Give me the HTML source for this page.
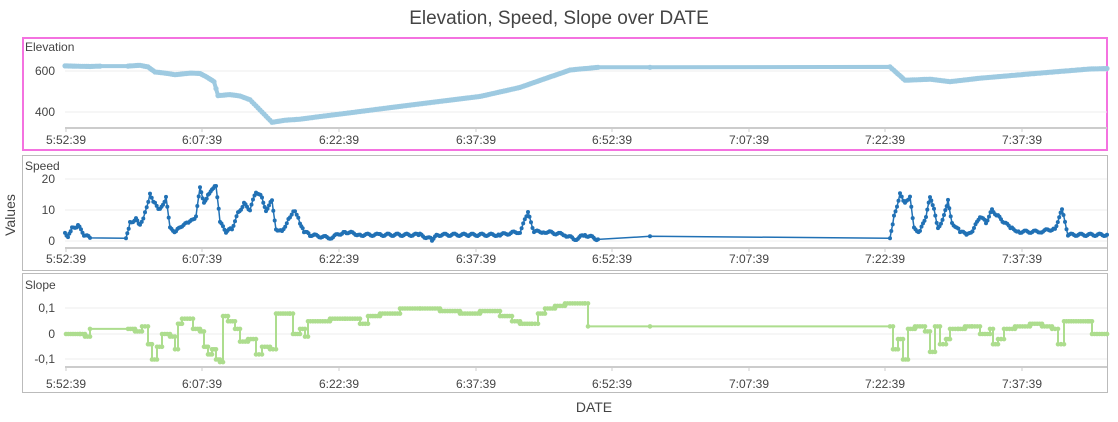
<!DOCTYPE html><html><head><style>body{margin:0;background:#fff;font-family:"Liberation Sans",sans-serif}svg text{font-family:"Liberation Sans",sans-serif;fill:#444}</style></head><body>
<svg id="s" width="1118" height="417" xmlns="http://www.w3.org/2000/svg">
<text x="559" y="24" font-size="19" text-anchor="middle" fill="#444">Elevation, Speed, Slope over DATE</text>
<text x="594" y="412" font-size="14" text-anchor="middle">DATE</text>
<text x="15" y="215" font-size="14" text-anchor="middle" transform="rotate(-90 15 215)">Values</text>
<rect x="22.5" y="155.5" width="1085" height="115" fill="none" stroke="#bbb"/>
<rect x="22.5" y="273.5" width="1085" height="119" fill="none" stroke="#bbb"/>
<rect x="23" y="38" width="1084" height="112" fill="none" stroke="#f472e0" stroke-width="2"/>
<text x="25" y="51" font-size="12">Elevation</text>
<text x="25" y="170" font-size="12">Speed</text>
<text x="25" y="289" font-size="12">Slope</text>
<g id="g"></g>
</svg>
<script>
const g=document.getElementById('g');let h='';
const xs=[66,202,339,476,612,749,885,1022],lb=['5:52:39','6:07:39','6:22:39','6:37:39','6:52:39','7:07:39','7:22:39','7:37:39'];
function axis(ay,ty){h+=`<line x1="65" x2="1107" y1="${ay}" y2="${ay}" stroke="#ccc" stroke-width="2"/>`;xs.forEach((x,i)=>{h+=`<line x1="${x}" x2="${x}" y1="${ay}" y2="${ay+4}" stroke="#ccc"/><text x="${x}" y="${ty}" font-size="12" text-anchor="middle">${lb[i]}</text>`})}
function grid(ys,labels){ys.forEach((y,i)=>{h+=`<line x1="65" x2="1107" y1="${y}" y2="${y}" stroke="#eee"/><text x="55" y="${y+4}" font-size="12" text-anchor="end">${labels[i]}</text>`})}
grid([71,112],['600','400']);axis(128,144);
grid([179,210,241],['20','10','0']);axis(248,263);
grid([308,334,359],['0,1','0','-0,1']);axis(367,388);
const sparse=new Set([90,100,128,598,650,140]);
function draw(pts,f,col,w,r){h+=`<polyline fill="none" stroke="${col}" stroke-width="${w}" stroke-linejoin="round" points="${pts.map(p=>p[0].toFixed(1)+','+f(p[1]).toFixed(1)).join(' ')}"/>`;pts.forEach(p=>{h+=`<circle cx="${p[0].toFixed(1)}" cy="${f(p[1]).toFixed(1)}" r="${r}" fill="${col}"/>`})}
// elevation
const ek=[[65,625],[90,622],[100,624],[128,624],[140,628],[148,620],[155,595],[165,590],[175,582],[190,590],[200,588],[207,570],[214,548],[218,480],[230,485],[240,478],[250,460],[258,420],[272,350],[285,360],[300,365],[320,378],[340,390],[420,440],[480,476],[520,520],[570,605],[598,618],[650,618],[890,620],[905,555],[930,560],[950,548],[980,565],[1040,590],[1090,610],[1107,612]];
let ep=[];for(let i=0;i<ek.length-1;i++){const[a,va]=ek[i],[b,vb]=ek[i+1];if(a==100||a==650||a==598){ep.push([a,va]);continue}const n=Math.max(1,Math.round((b-a)/2));for(let j=0;j<n;j++){const t=j/n;ep.push([a+(b-a)*t,va+(vb-va)*t])}}ep.push([1107,612]);
draw(ep,v=>112-(v-400)*0.205,'#9ecae1',4,2.6);
// speed
const sk=[[65,3],[68,1],[72,4],[78,5],[84,2],[90,1],[126,0.5],[130,6],[136,7],[140,5],[145,9],[150,15],[155,12],[160,10],[166,14],[170,4],[176,3],[182,5],[190,6],[196,8],[200,17],[204,12],[208,15],[212,17],[216,18],[220,6],[226,3],[232,4],[238,9],[244,12],[250,10],[256,16],[262,14],[266,10],[272,13],[276,4],[282,3],[290,8],[295,10],[300,6],[304,3],[310,2],[330,1],[345,3],[360,2],[380,2],[420,2],[432,0.5],[438,2],[470,2],[500,2],[520,3],[528,9],[534,3],[545,3],[565,2],[575,0.5],[585,2],[598,0.5],[650,1.5],[890,0.5],[894,8],[900,15],[905,12],[910,14],[914,4],[920,3],[926,8],[930,14],[934,10],[938,4],[944,8],[948,13],[952,6],[960,3],[968,2],[974,4],[980,8],[986,6],[992,10],[998,8],[1004,6],[1012,4],[1020,3],[1040,3],[1055,4],[1062,10],[1068,2],[1107,2]];
let sp=[];for(let i=0;i<sk.length-1;i++){const[a,va]=sk[i],[b,vb]=sk[i+1];if(a==90||a==598||a==650){sp.push([a,va]);continue}const n=Math.max(1,Math.round((b-a)/1.5));for(let j=0;j<n;j++){const t=j/n;sp.push([a+(b-a)*t,va+(vb-va)*t+Math.sin(a*5+j)*0.4])}}sp.push([1107,2]);
draw(sp,v=>241-3.1*v,'#2171b5',1.5,2);
// slope (step)
const lk=[[66,0],[80,0],[85,-0.01],[90,0.02],[128,0.02],[135,0.01],[142,0.03],[148,-0.04],[152,-0.1],[157,-0.05],[162,0],[170,-0.01],[175,-0.06],[178,0.04],[182,0.06],[190,0.06],[193,0.02],[200,0.01],[204,-0.05],[208,-0.08],[212,-0.06],[216,-0.1],[220,-0.11],[223,0.07],[228,0.05],[235,0.02],[240,-0.03],[248,-0.02],[256,-0.08],[262,-0.05],[270,-0.06],[276,0.08],[290,0.08],[293,0],[300,0.02],[305,-0.01],[308,0.05],[330,0.06],[345,0.06],[360,0.04],[368,0.07],[380,0.08],[400,0.1],[420,0.1],[440,0.09],[460,0.08],[480,0.09],[500,0.07],[512,0.05],[520,0.04],[532,0.04],[538,0.08],[545,0.1],[555,0.11],[565,0.12],[585,0.12],[588,0.03],[650,0.03],[890,0.03],[893,-0.06],[898,-0.02],[903,-0.1],[908,0.02],[915,0.03],[925,0.01],[930,-0.07],[935,0.03],[940,-0.04],[946,-0.02],[950,0.02],[958,0.02],[965,0.03],[972,0.03],[980,0],[990,0.02],[993,-0.04],[998,-0.02],[1004,0.02],[1015,0.03],[1030,0.04],[1042,0.03],[1052,0.02],[1058,-0.04],[1064,0.05],[1088,0.05],[1092,0],[1107,0]];
let lp=[];for(let i=0;i<lk.length-1;i++){const[a,va]=lk[i],[b,vb]=lk[i+1];if(a==90||a==588||a==650){lp.push([a,va]);continue}const n=Math.max(1,Math.round((b-a)/2.5));for(let j=0;j<n;j++){lp.push([a+(b-a)*j/n,va])}lp.push([b-0.01,va])}lp.push([1107,0]);
draw(lp,v=>334-255*v,'#addd8e',2,2.3);
g.innerHTML=h;
</script></body></html>
